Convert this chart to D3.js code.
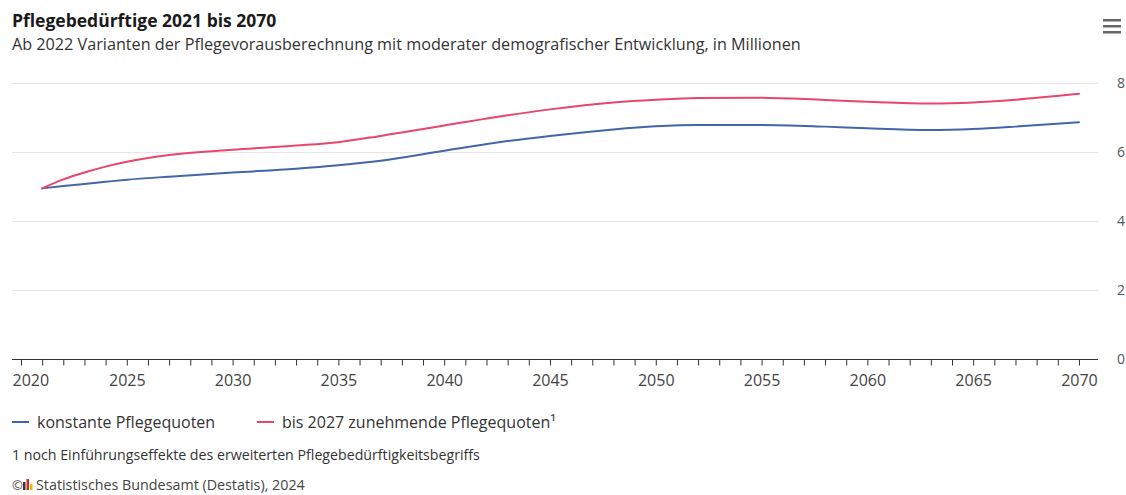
<!DOCTYPE html>
<html><head><meta charset="utf-8">
<script src="https://cdn.jsdelivr.net/npm/d3@7/dist/d3.min.js"></script>
<style>
body{margin:0;background:#fff;}
svg text{font-family:"Open Sans","Noto Sans",sans-serif;}
</style>
</head><body>
<svg id="chart" width="1126" height="495"></svg>
<script>
const title = "Pflegebedürftige 2021 bis 2070";
const subtitle = "Ab 2022 Varianten der Pflegevorausberechnung mit moderater demografischer Entwicklung, in Millionen";
const seriesNames = ["konstante Pflegequoten", "bis 2027 zunehmende Pflegequoten¹"];
const footnote = "1 noch Einführungseffekte des erweiterten Pflegebedürftigkeitsbegriffs";
const credits = "Statistisches Bundesamt (Destatis), 2024";

const years =      [2021,2022,2023,2024,2025,2027,2030,2033,2035,2037,2040,2043,2045,2048,2050,2052,2055,2058,2060,2063,2065,2067,2070];
const konstante =  [4.96,5.03,5.09,5.15,5.21,5.30,5.42,5.53,5.63,5.76,6.05,6.33,6.48,6.67,6.76,6.80,6.80,6.75,6.70,6.65,6.68,6.75,6.88];
const zunehmende = [4.96,5.22,5.42,5.59,5.73,5.93,6.08,6.20,6.30,6.48,6.78,7.08,7.25,7.45,7.53,7.58,7.59,7.52,7.47,7.42,7.45,7.53,7.70];

const yTicks = [0,2,4,6,8];
const xTicks = d3.range(2020, 2071, 1);
const xLabels = [2020,2025,2030,2035,2040,2045,2050,2055,2060,2065,2070];
const colors = ["#4266a8", "#e8466c"];

const svg = d3.select("#chart");
const plot = {left:12, right:1098, top:83.5, bottom:359.5};

const x = d3.scaleLinear().domain([2019.575, 2070.9]).range([plot.left, plot.right]);
const y = d3.scaleLinear().domain([0, 8]).range([plot.bottom, plot.top]);

// title
svg.append("text").attr("x", 12).attr("y", 27)
  .attr("font-size", 17.5).attr("font-weight", 700).attr("fill", "#1a1a1a").text(title);
svg.append("text").attr("x", 12).attr("y", 50)
  .attr("font-size", 16.2).attr("fill", "#333").text(subtitle);

// menu icon
const menu = svg.append("g").attr("transform", "translate(1103,19)");
[0,6,12].forEach(d => menu.append("rect").attr("x",0).attr("y",d).attr("width",18).attr("height",2.5).attr("fill","#666"));

// gridlines
svg.append("g").selectAll("line").data(yTicks.filter(d => d > 0)).join("line")
  .attr("x1", plot.left).attr("x2", plot.right)
  .attr("y1", d => y(d)).attr("y2", d => y(d))
  .attr("stroke", "#e6e6e6").attr("stroke-width", 1);

// y axis labels (right)
const yAxis = d3.axisRight(y).tickValues(yTicks).tickSize(0).tickPadding(0).tickFormat(d3.format("d"));
const gy = svg.append("g").attr("transform", `translate(1117,0)`).call(yAxis);
gy.select(".domain").remove();
gy.selectAll("text").attr("font-size", 14).attr("fill", "#555").attr("font-family", '"Open Sans",sans-serif');

// x axis
const xAxis = d3.axisBottom(x).tickValues(xTicks).tickSize(6).tickPadding(9)
  .tickFormat(d => xLabels.includes(d) ? d : "");
const gx = svg.append("g").attr("transform", `translate(0,${plot.bottom})`).call(xAxis);
gx.select(".domain").attr("d", `M${plot.left},0H${plot.right}`).attr("stroke", "#333");
gx.selectAll(".tick line").attr("stroke", "#333");
gx.selectAll("text").attr("font-size", 16).attr("fill", "#444").attr("font-family", '"Open Sans",sans-serif');
gx.selectAll(".tick").filter(d => d === 2020).select("text").attr("text-anchor","start").attr("x", plot.left - x(2020));

// lines
const line = d3.line().x((d,i) => x(years[i])).y(d => y(d)).curve(d3.curveMonotoneX);
[konstante, zunehmende].forEach((s, i) => {
  svg.append("path").datum(s).attr("d", line).attr("fill", "none")
    .attr("stroke", colors[i]).attr("stroke-width", 2).attr("stroke-linejoin","round").attr("stroke-linecap","round");
});

// legend
const legendX = [12, 257];
seriesNames.forEach((n, i) => {
  const g = svg.append("g").attr("transform", `translate(${legendX[i]},422)`);
  g.append("line").attr("x1", 0).attr("x2", 17).attr("y1", 0).attr("y2", 0).attr("stroke", colors[i]).attr("stroke-width", 2);
  g.append("text").attr("x", 25).attr("y", 6).attr("font-size", 16).attr("fill", "#333").text(n);
});

// footnote
svg.append("text").attr("x", 12).attr("y", 460).attr("font-size", 14.2).attr("fill", "#333").text(footnote);

// credits
const cr = svg.append("g");
cr.append("text").attr("x", 12).attr("y", 490).attr("font-size", 13).attr("fill", "#444").text("©");
const logo = cr.append("g").attr("transform", "translate(23,478)");
logo.append("rect").attr("x",0).attr("y",4).attr("width",2.5).attr("height",8).attr("fill","#333");
logo.append("rect").attr("x",3.5).attr("y",1).attr("width",2.5).attr("height",11).attr("fill","#d6242a");
logo.append("rect").attr("x",7).attr("y",6).attr("width",2.5).attr("height",6).attr("fill","#f2b800");
cr.append("text").attr("x", 36).attr("y", 490).attr("font-size", 14.3).attr("fill", "#444").text(credits);
</script>
</body></html>
